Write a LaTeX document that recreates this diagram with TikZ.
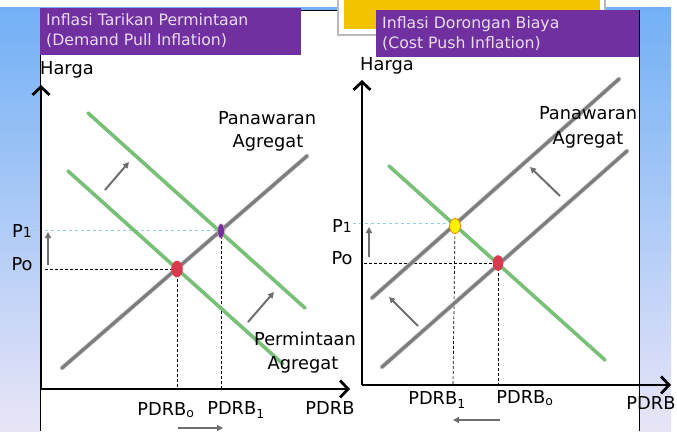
\documentclass[tikz,border=0pt]{standalone}
\usepackage{fontspec}
\setmainfont{DejaVu Sans}
\usetikzlibrary{arrows.meta}
\definecolor{purp}{HTML}{7030A0}
\definecolor{lav}{HTML}{EADCF3}
\definecolor{stripT}{HTML}{72B0F6}
\definecolor{stripB}{HTML}{E9E5F7}
\definecolor{gline}{HTML}{78C078}
\definecolor{sline}{HTML}{7C7C7C}
\definecolor{arrg}{HTML}{6E6E6E}
\definecolor{cyanl}{HTML}{8CCFE6}
\definecolor{dotred}{HTML}{D93A50}
\definecolor{yel}{HTML}{F3C300}
\tikzset{
  axisline/.style={line width=2.8pt, -{Straight Barb[length=8pt,width=17pt,line width=2.8pt]}},
  demand/.style={line width=3.6pt, gline, line cap=round},
  supplyglow/.style={line width=4.6pt, gray!45, line cap=round},
  supply/.style={line width=3pt, sline, line cap=round},
  smallarr/.style={line width=2pt, arrg, -{Triangle[length=6pt,width=6pt]}},
  dashk/.style={densely dashed, line width=0.7pt, black},
  dashc/.style={dashed, line width=0.8pt, cyanl},
  lab/.style={font=\fontsize{17.8}{20}\selectfont, inner sep=0pt},
  ttl/.style={font=\fontsize{15.7}{20}\selectfont, text=lav, inner sep=0pt, align=left, anchor=west},
}
\begin{document}
\begin{tikzpicture}[x=1pt,y=-1pt]
\useasboundingbox (0,0) rectangle (677,431);
\fill[white] (0,0) rectangle (677,431);
% side strips and top band
\shade[top color=stripT, bottom color=stripB] (0,7) rectangle (40,431);
\shade[top color=stripT, bottom color=stripB] (639,7) rectangle (671,431);
\fill[stripT] (40,7) rectangle (639,10);
% panel
\fill[white] (40,10) rectangle (639,431);
\draw[line width=0.8pt] (40,431) -- (40,10) -- (639,10) -- (639,431);
% yellow box
\filldraw[fill=white, draw=gray!55, line width=1.5pt] (338,-3) rectangle (605,35);
\fill[yel] (344,0) rectangle (600,29);
% title boxes
\fill[purp] (40,8) rectangle (301,55);
\node[ttl] (t1) at (46,31) {Inflasi Tarikan Permintaan\\(Demand Pull Inflation)};
\fill[purp] (376,10) rectangle (639,57);
\node[ttl] (t2) at (382,34) {Inflasi Dorongan Biaya\\(Cost Push Inflation)};

% ===== LEFT PANEL =====
\coordinate (LO) at (41,389);
\coordinate (LY) at (41,85);
\coordinate (LX) at (350,389);
\coordinate (E0) at (177,269);
\coordinate (E1) at (221,231);
% dashed guides
\draw[dashc] (33,230) -- (226,230);
\draw[dashk] (45,269) -- (E0);
\draw[dashk] (E0) -- (177,389);
\draw[dashk] (E1) -- (221,389);
% curves
\coordinate (S0a) at (62,368); \coordinate (S0b) at (307,156);
\coordinate (D0a) at (68,171); \coordinate (D0b) at (283,364);
\coordinate (D1a) at (88,113); \coordinate (D1b) at (305,308);
\draw[supplyglow] (S0a) -- (S0b);
\draw[supply] (S0a) -- (S0b);
\draw[demand] (D0a) -- (D0b);
\draw[demand] (D1a) -- (D1b);
% dots
\fill[dotred] (E0) ellipse [x radius=5.8, y radius=8.3];
\filldraw[fill=purp, draw=dotred!50, line width=0.6pt] (E1) ellipse [x radius=3.4, y radius=7.2];
% axes
\draw[axisline] (LO) -- (LY);
\draw[axisline] (LO) -- (LX);
% arrows
\coordinate (a1s) at (105,190); \coordinate (a1e) at (129,162);
\coordinate (a2s) at (248,322); \coordinate (a2e) at (274,292);
\coordinate (a3s) at (48,265); \coordinate (a3e) at (48,232);
\coordinate (a4s) at (178,428); \coordinate (a4e) at (223,428);
\draw[smallarr] (a1s) -- (a1e);
\draw[smallarr] (a2s) -- (a2e);
\draw[smallarr] (a3s) -- (a3e);
\draw[smallarr] (a4s) -- (a4e);
% labels
\node[lab, anchor=west] (h1) at (40,70) {Harga};
\node[lab] (p1l) at (22,231) {P{\fontsize{14}{14}\selectfont 1}};
\node[lab] (p0l) at (22,264) {Po};
\node[lab] (pa1) at (267,118) {Panawaran};
\node[lab] (ag1) at (268,143) {Agregat};
\node[lab] (pe1) at (305,339) {Permintaan};
\node[lab] (ag2) at (303,365) {Agregat};
\node[lab] (x0l) at (166,410) {PDRB\textsubscript{o}};
\node[lab] (x1l) at (236,410) {PDRB\textsubscript{1}};
\node[lab] (xl) at (330,408) {PDRB};

% ===== RIGHT PANEL =====
\coordinate (RO) at (362,385);
\coordinate (RY) at (362,80);
\coordinate (RX) at (671,385);
\coordinate (F0) at (498,263);
\coordinate (F1) at (455,226);
\draw[dashc] (353,223) -- (455,223);
\draw[dashk] (364,263) -- (F0);
\draw[dashk] (F0) -- (498,385);
\draw[dashk] (F1) -- (453,385);
\coordinate (S1a) at (382,367); \coordinate (S1b) at (627,151);
\coordinate (S2a) at (372,298); \coordinate (S2b) at (619,79);
\coordinate (Da) at (389,166); \coordinate (Db) at (605,360);
\draw[supplyglow] (S1a) -- (S1b);
\draw[supply] (S1a) -- (S1b);
\draw[supplyglow] (S2a) -- (S2b);
\draw[supply] (S2a) -- (S2b);
\draw[demand] (Da) -- (Db);
\fill[dotred] (F0) ellipse [x radius=5.3, y radius=7.8];
\filldraw[fill=yellow, draw=orange, line width=0.8pt] (F1) ellipse [x radius=5.5, y radius=7.5];
\draw[axisline] (RO) -- (RY);
\draw[axisline] (RO) -- (RX);
\coordinate (b1s) at (560,196); \coordinate (b1e) at (530,167);
\coordinate (b2s) at (418,326); \coordinate (b2e) at (389,297);
\coordinate (b3s) at (369,257); \coordinate (b3e) at (369,227);
\coordinate (b4s) at (500,420); \coordinate (b4e) at (453,420);
\draw[smallarr] (b1s) -- (b1e);
\draw[smallarr] (b2s) -- (b2e);
\draw[smallarr] (b3s) -- (b3e);
\draw[smallarr] (b4s) -- (b4e);
\node[lab, anchor=west] (h2) at (360,66) {Harga};
\node[lab] (p1r) at (342,226) {P{\fontsize{14}{14}\selectfont 1}};
\node[lab] (p0r) at (342,258) {Po};
\node[lab] (pa2) at (588,113) {Panawaran};
\node[lab] (ag3) at (588,140) {Agregat};
\node[lab] (x1r) at (437,400) {PDRB\textsubscript{1}};
\node[lab] (x0r) at (525,398) {PDRB\textsubscript{o}};
\node[lab] (xr) at (651,403) {PDRB};
\end{tikzpicture}
\end{document}
